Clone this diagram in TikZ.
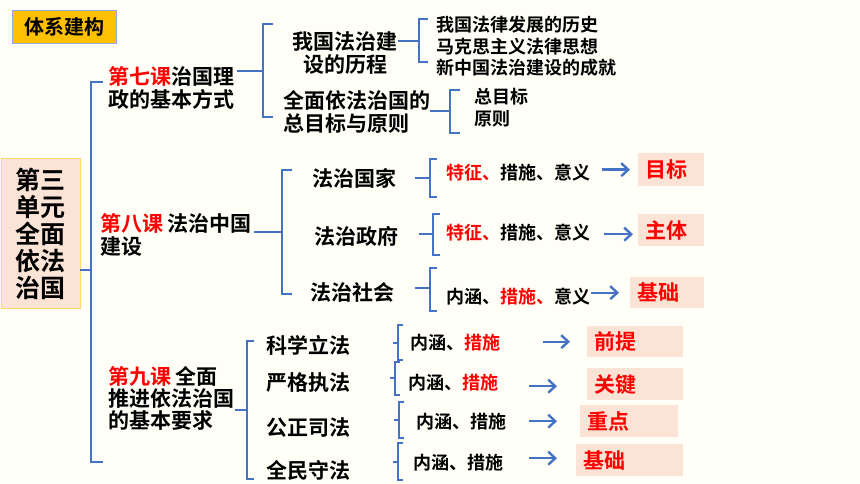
\documentclass[tikz,border=0pt]{standalone}
\usepackage{fontspec}
\setmainfont{Noto Sans CJK SC}[BoldFont=* Bold]
\usetikzlibrary{arrows.meta}
\definecolor{bg}{RGB}{255,254,247}
\definecolor{brblue}{RGB}{68,114,196}
\definecolor{peach}{RGB}{251,228,214}
\definecolor{gold}{RGB}{255,192,0}
\definecolor{txtred}{RGB}{255,0,0}
\definecolor{framegray}{RGB}{143,170,220}
\definecolor{unitframe}{RGB}{255,217,102}
\begin{document}
\begin{tikzpicture}[x=1pt,y=-1pt,
 br/.style={draw=brblue,line width=2.4pt},
 brs/.style={draw=brblue,line width=2pt},
 arr/.style={draw=brblue,line width=2.4pt,-{Straight Barb[length=7pt,width=13pt]}},
 big/.style={font=\fontsize{21}{23}\selectfont\bfseries,inner sep=0pt,align=left},
 small/.style={font=\fontsize{18}{21}\selectfont\bfseries,inner sep=0pt,align=left},
 keybox/.style={fill=peach,text=txtred,font=\fontsize{21}{24}\selectfont\bfseries,anchor=north west,inner xsep=7pt,inner ysep=0pt,align=left},
]
\fill[bg] (0,0) rectangle (860,484);
\useasboundingbox (0,0) rectangle (860,484);

% title and unit
\node[draw=framegray,fill=gold,line width=0.8pt,minimum width=104pt,minimum height=33pt,anchor=north west,inner sep=0pt,font=\fontsize{20}{24}\selectfont\bfseries] (title) at (12,10) {体系建构};
\node[draw=unitframe,fill=peach,line width=0.8pt,minimum width=79pt,minimum height=150pt,anchor=north west,inner sep=0pt,align=center,font=\fontsize{25}{27}\selectfont\bfseries] (unit) at (0.5,158) {第三\\单元\\全面\\依法\\治国};

% main bracket
\coordinate (jm) at (91,270);
\draw[br] (unit.east |- jm) -- (jm);
\draw[br] (103,82) -- (91,82) -- (91,462) -- (103,462);

% lesson 7
\node[big,anchor=west] (L7) at (108,88) {\textcolor{txtred}{第七课}治国理\\政的基本方式};
\coordinate (j7) at (263,71);
\draw[br] ([xshift=3pt]L7.east |- j7) -- (j7);
\draw[br] (273,24) -- (263,24) -- (263,117) -- (273,117);
\node[big,align=center] (S1a) at (345,53) {我国法治建\\设的历程};
\node[big,anchor=west] (S1b) at (283,112) {全面依法治国的\\总目标与原则};
\coordinate (j1a) at (419,41);
\draw[br] (S1a.east |- j1a) -- (j1a);
\draw[br] (428,19) -- (419,19) -- (419,62) -- (428,62);
\node[small,anchor=west] (h1) at (436,25) {我国法律发展的历史};
\node[small,anchor=west] (h2) at (436,47) {马克思主义法律思想};
\node[small,anchor=west] (h3) at (436,68) {新中国法治建设的成就};
\coordinate (j1b) at (450,111);
\draw[br] (S1b.east |- j1b) -- (j1b);
\draw[br] (460,90) -- (450,90) -- (450,133) -- (460,133);
\node[small,anchor=west] (g1) at (474,97) {总目标};
\node[small,anchor=west] (g2) at (474,119) {原则};

% lesson 8
\node[big,anchor=west] (L8) at (100,235) {\textcolor{txtred}{第八课} 法治中国\\建设};
\coordinate (j8) at (282,232);
\draw[br] ([xshift=2pt]L8.east |- j8) -- (j8);
\draw[br] (292,170) -- (282,170) -- (282,294) -- (292,294);
\node[big] (N1) at (354,178) {法治国家};
\node[big] (N2) at (356,236) {法治政府};
\node[big] (N3) at (352,292) {法治社会};
\draw[br] (415,178) -- (430,178);
\draw[br] (437,159) -- (430,159) -- (430,197) -- (437,197);
\draw[br] (419,234) -- (433,234);
\draw[br] (440,214) -- (433,214) -- (433,255) -- (440,255);
\draw[br] (415,288) -- (430,288);
\draw[br] (437,268) -- (430,268) -- (430,311) -- (437,311);
\node[small,anchor=west] (t1) at (446,173) {\textcolor{txtred}{特征、}措施、意义};
\node[small,anchor=west] (t2) at (446,233) {\textcolor{txtred}{特征、}措施、意义};
\node[small,anchor=west] (t3) at (446,297) {内涵、\textcolor{txtred}{措施、}意义};
\node[keybox,minimum height=33pt,text width=52pt] (B1) at (638,153) {目标};
\node[keybox,minimum height=32pt,text width=52pt] (B2) at (638,214) {主体};
\node[keybox,minimum height=31pt,text width=60pt] (B3) at (630,277) {基础};
\draw[arr] ([xshift=-36pt]B1.west) -- ([xshift=-8pt]B1.west);
\draw[arr] ([xshift=-34pt,yshift=-4pt]B2.west) -- ([xshift=-5pt,yshift=-4pt]B2.west);
\draw[arr] ([xshift=-39pt]B3.west) -- ([xshift=-11pt]B3.west);

% lesson 9
\node[font=\fontsize{21}{22}\selectfont\bfseries,inner sep=0pt,align=left,anchor=west] (L9) at (108,398) {\textcolor{txtred}{第九课} 全面\\推进依法治国\\的基本要求};
\coordinate (j9) at (247,410);
\draw[br] ([xshift=1pt]L9.east |- j9) -- (j9);
\draw[br] (254,341) -- (247,341) -- (247,479) -- (254,479);
\node[big] (M1) at (308,345) {科学立法};
\node[big] (M2) at (308,383) {严格执法};
\node[big] (M3) at (308,428) {公正司法};
\node[big] (M4) at (308,470) {全民守法};
\draw[brs] (403,325) -- (398,325) -- (398,360) -- (403,360);
\draw[brs] (393,343) -- (398,343);
\draw[brs] (400,362) -- (395,362) -- (395,395) -- (400,395);
\draw[brs] (390,378) -- (395,378);
\draw[brs] (404,402) -- (399,402) -- (399,438) -- (404,438);
\draw[brs] (394,420) -- (399,420);
\draw[brs] (403,443) -- (398,443) -- (398,480) -- (403,480);
\draw[brs] (393,462) -- (398,462);
\node[small,anchor=west] (u1) at (410,343) {内涵、\textcolor{txtred}{措施}};
\node[small,anchor=west] (u2) at (408,383) {内涵、\textcolor{txtred}{措施}};
\node[small,anchor=west] (u3) at (416,422) {内涵、措施};
\node[small,anchor=west] (u4) at (413,463) {内涵、措施};
\node[keybox,minimum height=31pt,text width=82pt] (C1) at (587,326) {前提};
\node[keybox,minimum height=32pt,text width=82pt] (C2) at (587,368) {关键};
\node[keybox,minimum height=32pt,text width=84pt] (C3) at (580,405) {重点};
\node[keybox,minimum height=32pt,text width=93pt] (C4) at (576,444) {基础};
\draw[arr] ([xshift=-44pt]C1.west) -- ([xshift=-17pt]C1.west);
\draw[arr] ([xshift=-58pt,yshift=-2pt]C2.west) -- ([xshift=-30pt,yshift=-2pt]C2.west);
\draw[arr] ([xshift=-51pt]C3.west) -- ([xshift=-23pt]C3.west);
\draw[arr] ([xshift=-47pt,yshift=2pt]C4.west) -- ([xshift=-19pt,yshift=2pt]C4.west);
\end{tikzpicture}
\end{document}
